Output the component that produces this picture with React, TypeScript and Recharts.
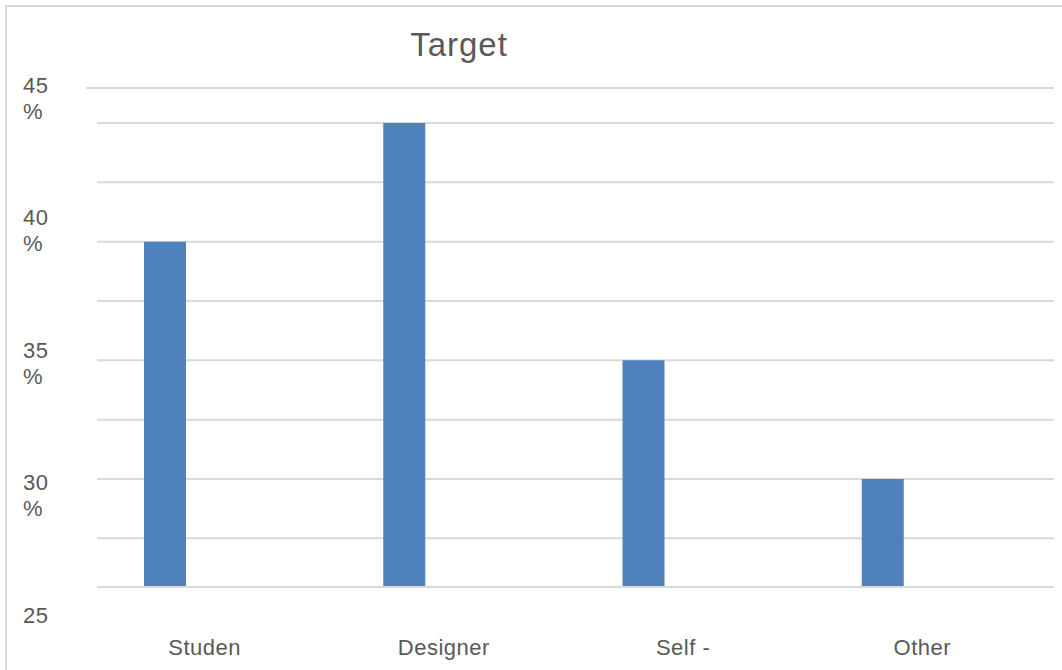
import { BarChart, Bar, XAxis, YAxis, CartesianGrid, ReferenceLine } from "recharts";

// values
const categories = ["Studen", "Designer", "Self -", "Other"];
const targetValues = [40, 45, 35, 30];
const gridTicks = [27.5, 30, 32.5, 35, 37.5, 40, 42.5, 45];
const yLabelTicks = [45, 40, 35, 30, 25];
const yLabelSuffix = ["%", "%", "%", "%", ""];

const Y_MIN = 25.45;
const Y_MAX = 46.475;
// the printed labels sit on their own (slightly different) scale in the source image
const LABEL_MIN = 26.042;
const LABEL_MAX = 44.872;

const FONT = '"Liberation Sans", Arial, sans-serif';
const TEXT = "#595959";
const GRID = "#d9d9d9";

const data = categories.map((name, i) => ({ name, value: targetValues[i] }));

const YLabelTick = (p: any) => {
  const suffix = yLabelSuffix[p.index];
  return (
    <g>
      <text x={23} y={p.y} dy="0.36em" fill={TEXT} fontSize={22} letterSpacing={0.5} fontFamily={FONT}>
        {p.payload.value}
      </text>
      {suffix && (
        <text x={23} y={p.y + 26} dy="0.36em" fill={TEXT} fontSize={22} fontFamily={FONT}>
          {suffix}
        </text>
      )}
    </g>
  );
};

const XLabelTick = (p: any) => (
  <text x={p.x} y={p.y + 68} textAnchor="middle" fill={TEXT} fontSize={22} letterSpacing={0.5} fontFamily={FONT}>
    {p.payload.value}
  </text>
);

// top line is a little shorter and shifted left compared to the grid
const TopLine = (p: any) => (
  <line x1={p.x1 - 11} y1={p.y1} x2={p.x2 - 10} y2={p.y2} stroke={GRID} strokeWidth={2} />
);

export default function App() {
  return (
    <div style={{ position: "absolute", left: 0, top: 0, width: 1062, height: 670, background: "#fff", overflow: "hidden" }}>
      <div
        style={{
          position: "absolute",
          left: 5,
          top: 5,
          width: 1057,
          height: 665,
          borderTop: `2px solid ${GRID}`,
          borderLeft: `2px solid ${GRID}`,
          boxSizing: "border-box",
        }}
      />
      <div
        style={{
          position: "absolute",
          left: 0,
          top: 28,
          width: 918,
          textAlign: "center",
          fontFamily: FONT,
          fontSize: 33,
          letterSpacing: 1,
          lineHeight: "33px",
          color: TEXT,
        }}
      >
        Target
      </div>
      <div style={{ position: "absolute", left: 0, top: 0 }}>
        <BarChart width={1062} height={670} data={data} margin={{ top: 88, right: 8, bottom: 53, left: 23 }}>
          <CartesianGrid yAxisId="v" xAxisId="lbl" vertical={false} stroke={GRID} strokeWidth={2} />
          <XAxis xAxisId="bars" dataKey="name" hide height={0} padding={{ left: -52, right: 52 }} />
          <XAxis
            xAxisId="lbl"
            dataKey="name"
            height={30}
            padding={{ left: -12, right: 12 }}
            axisLine={{ stroke: GRID, strokeWidth: 2 }}
            tickLine={false}
            tickSize={0}
            tickMargin={0}
            interval={0}
            tick={<XLabelTick />}
          />
          <YAxis yAxisId="v" type="number" domain={[Y_MIN, Y_MAX]} ticks={gridTicks} allowDataOverflow hide />
          <YAxis
            yAxisId="lbl"
            type="number"
            domain={[LABEL_MIN, LABEL_MAX]}
            ticks={yLabelTicks}
            allowDataOverflow
            width={74}
            axisLine={false}
            tickLine={false}
            tickSize={0}
            tickMargin={0}
            interval={0}
            tick={<YLabelTick />}
          />
          <ReferenceLine yAxisId="v" xAxisId="lbl" y={Y_MAX} shape={<TopLine />} />
          <Bar xAxisId="bars" yAxisId="v" dataKey="value" fill="#4f81bd" barSize={42} isAnimationActive={false} />
        </BarChart>
      </div>
    </div>
  );
}
